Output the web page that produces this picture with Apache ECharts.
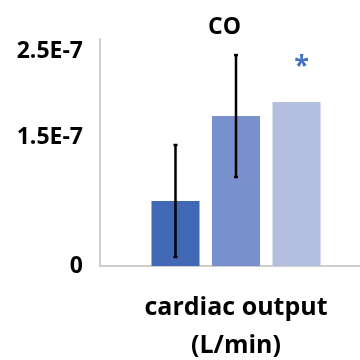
<!DOCTYPE html>
<html>
<head>
<meta charset="utf-8">
<script src="https://cdn.jsdelivr.net/npm/echarts@6/dist/echarts.min.js"></script>
<style>
  html, body { margin: 0; padding: 0; background: #fff; }
  #chart { width: 360px; height: 360px; }
</style>
</head>
<body>
<div id="chart"></div>
<script>
const categories = ['cardiac output\n(L/min)']
const means = [0.756e-7, 1.744e-7, 1.907e-7]
const errors = [0.651e-7, 0.709e-7, null]
const colors = ['#4068b5', '#7891cc', '#b3bfdf']
const marks = ['', '', '*']
const tickValues = [0, 1.5e-7, 2.5e-7]
const tickLabels = ['0', '1.5E-7', '2.5E-7']

const font = 'Open Sans'
const barWidth = 48
const gapPx = 12.5

const myChart = echarts.init(document.getElementById('chart'))

const barSeries = means.map((v, i) => ({
  type: 'bar',
  data: [v],
  barWidth: barWidth,
  barGap: (gapPx / barWidth * 100) + '%',
  itemStyle: { color: colors[i] },
  label: {
    show: marks[i] !== '',
    position: 'top',
    distance: 22,
    offset: [5, 0],
    formatter: marks[i],
    color: '#4472c4',
    fontSize: 27,
    fontWeight: 'bold',
    fontFamily: font
  },
  silent: true
}))

// error bars, offset to sit on each bar of the group
const errData = []
means.forEach((v, i) => {
  if (errors[i] != null) errData.push([0, v - errors[i], v + errors[i], i])
})

const errSeries = {
  type: 'custom',
  data: errData,
  z: 5,
  renderItem: (params, api) => {
    const k = api.value(3)
    const shift = (k - (means.length - 1) / 2) * (barWidth + gapPx)
    const lo = api.coord([api.value(0), api.value(1)])
    const hi = api.coord([api.value(0), api.value(2)])
    const x = lo[0] + shift
    const cap = 2
    const style = { stroke: '#000', lineWidth: 2.5 }
    return {
      type: 'group',
      children: [
        { type: 'line', shape: { x1: x, y1: lo[1], x2: x, y2: hi[1] }, style },
        { type: 'line', shape: { x1: x - cap, y1: lo[1], x2: x + cap, y2: lo[1] }, style },
        { type: 'line', shape: { x1: x - cap, y1: hi[1], x2: x + cap, y2: hi[1] }, style }
      ]
    }
  }
}

const option = {
  backgroundColor: '#fff',
  animation: false,
  title: {
    text: 'CO',
    left: 203,
    top: 11,
    textStyle: { fontFamily: font, fontWeight: 'bold', fontSize: 23, color: '#000' }
  },
  grid: {
    left: 100,
    right: -12,
    top: 39,
    bottom: 94,
    outerBoundsMode: 'none'
  },
  xAxis: {
    type: 'category',
    data: categories,
    axisLine: { lineStyle: { color: '#bfbfbf', width: 1.5 } },
    axisTick: { show: false },
    axisLabel: {
      margin: 23,
      fontFamily: font,
      fontWeight: 'bold',
      fontSize: 25,
      lineHeight: 38,
      color: '#000'
    }
  },
  yAxis: {
    type: 'value',
    min: 0,
    max: 2.64e-7,
    splitLine: { show: false },
    axisLine: { show: true, lineStyle: { color: '#bfbfbf', width: 1.5 } },
    axisTick: { show: false },
    axisLabel: {
      customValues: tickValues,
      margin: 17,
      padding: [0, 0, 6, 0],
      fontFamily: font,
      fontWeight: 'bold',
      fontSize: 23,
      color: '#000',
      formatter: (val) => {
        const i = tickValues.findIndex(t => Math.abs(t - val) < 1e-12)
        return i >= 0 ? tickLabels[i] : ''
      }
    }
  },
  series: [...barSeries, errSeries]
}

myChart.setOption(option)
</script>
</body>
</html>
